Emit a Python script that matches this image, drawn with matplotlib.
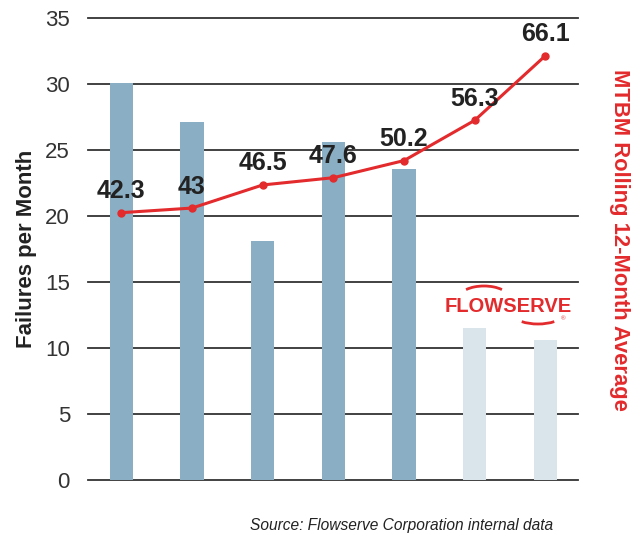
import matplotlib.pyplot as plt
from matplotlib.patches import Arc
import numpy as np

plt.rcParams['font.family'] = ['Liberation Sans', 'DejaVu Sans']

# Monthly failures (bars) and rolling 12-month MTBM (line)
failures = [30.1, 27.1, 18.1, 25.6, 23.6, 11.5, 10.6]
mtbm = [42.3, 43, 46.5, 47.6, 50.2, 56.3, 66.1]
mtbm_labels = ['42.3', '43', '46.5', '47.6', '50.2', '56.3', '66.1']
projected = [False, False, False, False, False, True, True]

bar_dark = '#8aaec3'
bar_light = '#d9e4eb'
red = '#e32a2c'
ink = '#222222'

fig = plt.figure(figsize=(6.41, 5.38), dpi=100)
ax = fig.add_axes([0.1373, 0.1072, 0.7644, 0.8593])

x = np.arange(len(failures))
colors = [bar_light if p else bar_dark for p in projected]
ax.bar(x, failures, width=0.33, color=colors, zorder=2)

ax.set_xlim(-0.47, 6.46)
ax.set_ylim(0, 35)
ax.set_yticks(range(0, 36, 5))
ax.set_xticks([])
ax.yaxis.grid(True, color='#333333', linewidth=1.3, zorder=1)
for gl in ax.get_ygridlines():
    gl.set_clip_on(False)
ax.set_axisbelow(True)
for s in ax.spines.values():
    s.set_visible(False)
ax.tick_params(axis='y', length=0, pad=13, labelsize=16, labelcolor='#333333')
ax.set_ylabel('Failures per Month', fontsize=16, fontweight='bold', color=ink)
ax.yaxis.set_label_coords(-0.105, 0.5)

# MTBM on a hidden secondary scale
ax2 = ax.twinx()
ax2.set_ylim(1.74, 71.8)
ax2.plot(x, mtbm, color=red, linewidth=2.2, marker='o', markersize=5, zorder=3)
for xi, v, lab in zip(x, mtbm, mtbm_labels):
    ax2.annotate(lab, (xi, v), xytext=(0, 15.5), textcoords='offset points',
                 ha='center', va='center', fontsize=18, fontweight='bold',
                 color=ink)
ax2.set_yticks([])
for s in ax2.spines.values():
    s.set_visible(False)
ax2.set_ylabel('MTBM Rolling 12-Month Average', rotation=-90, fontsize=15.8,
               fontweight='bold', color=red)
ax2.yaxis.set_label_coords(1.107, 0.52)

# Flowserve logo: wordmark with two swooshes (pixel-like coordinates)
logo_ax = fig.add_axes([440 / 641, 208 / 538, 140 / 641, 50 / 538])
logo_ax.set_xlim(440, 580)
logo_ax.set_ylim(208, 258)
logo_ax.axis('off')
logo_ax.text(508, 231.5, 'FLOWSERVE', ha='center', va='center', fontsize=14.5,
             fontweight='bold', color=red)
logo_ax.text(563, 219, '®', ha='center', va='center', fontsize=4.5, color=red)
logo_ax.add_patch(Arc((484, 240), 50, 24, theta1=25, theta2=155,
                      color=red, linewidth=2))
logo_ax.add_patch(Arc((538, 224), 50, 20, theta1=205, theta2=335,
                      color=red, linewidth=2))

fig.text(0.627, 0.024, 'Source: Flowserve Corporation internal data',
         ha='center', va='center', fontsize=11.2, style='italic', color=ink)

fig.savefig('out.png', dpi=100)
